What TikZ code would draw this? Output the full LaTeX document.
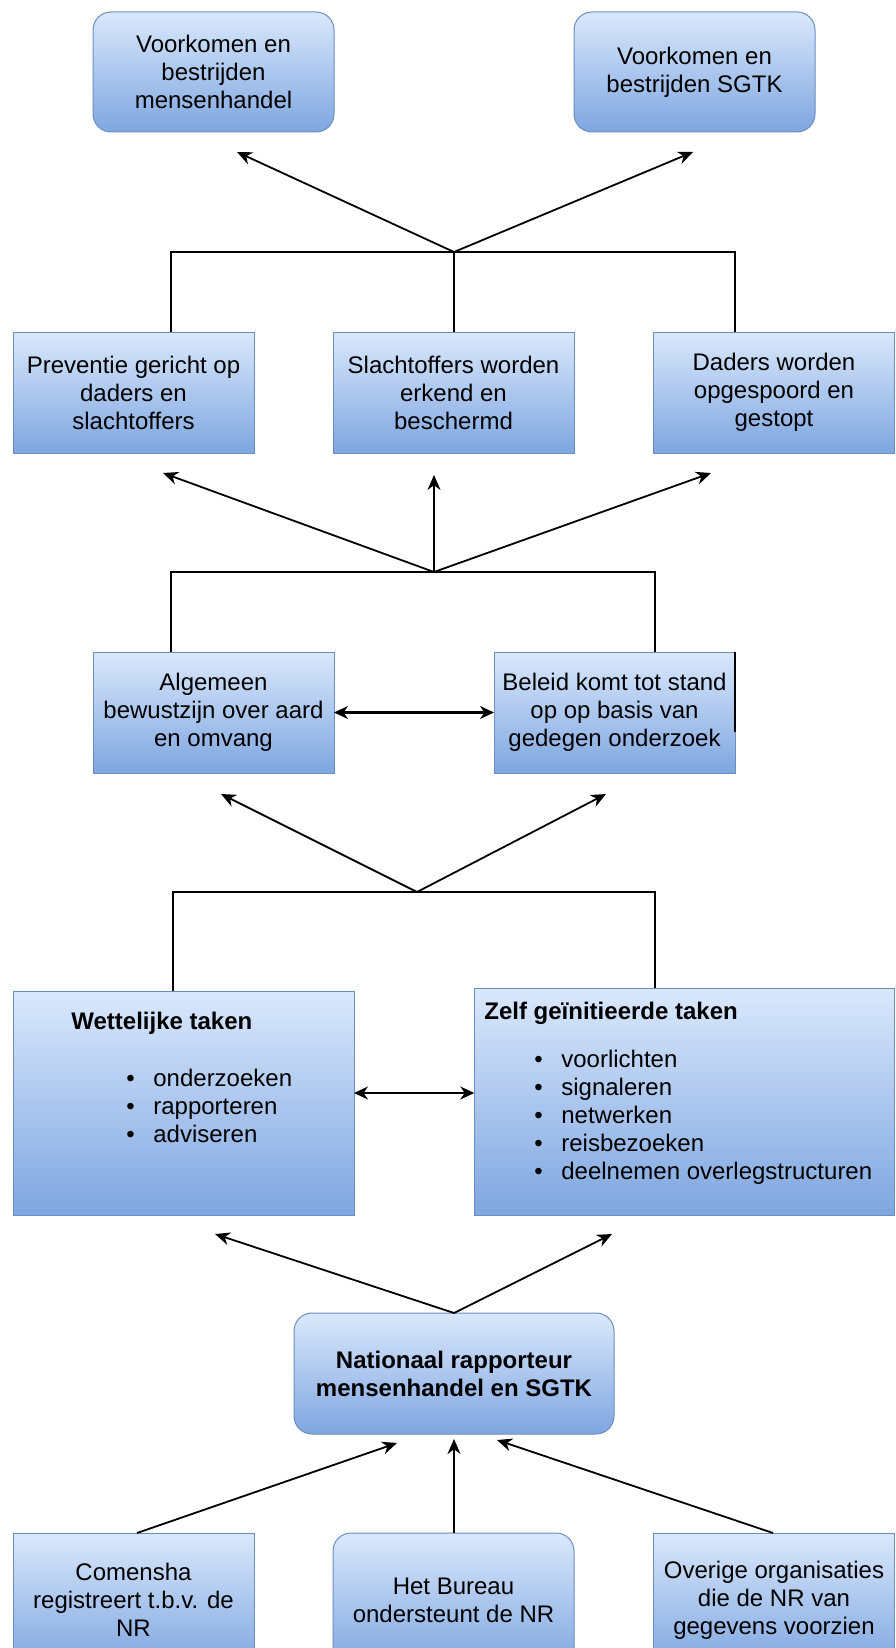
\documentclass[tikz,border=0pt]{standalone}
\usepackage{fontspec}
\setmainfont{Liberation Sans}
\usetikzlibrary{arrows.meta}

\definecolor{blauwtop}{RGB}{218,232,252}
\definecolor{blauwbodem}{RGB}{126,166,224}
\definecolor{blauwrand}{RGB}{108,142,191}

\newcommand\bolletje[1]{\makebox[13.5pt][l]{\textbullet}#1}

\tikzset{
	vak/.style={draw=blauwrand, line width=0.5pt, top color=blauwtop, bottom color=blauwbodem,
		minimum width=120.5pt, minimum height=60.5pt, inner sep=0pt, outer sep=0pt,
		align=center, font=\fontsize{12}{14}\selectfont},
	rvak/.style={vak, rounded corners=9pt},
	tekst/.style={inner sep=0pt, font=\fontsize{12}{14}\selectfont},
	lijn/.style={line width=0.9pt},
	pijl/.style={lijn, -{Stealth[length=7.5pt,width=6.5pt]}},
	dpijl/.style={line width=1.1pt, {Stealth[length=7pt,width=6.5pt]}-{Stealth[length=7pt,width=6.5pt]}},
}

\begin{document}
\begin{tikzpicture}[x=0.5pt,y=-0.5pt]
	\path[use as bounding box] (0,0) rectangle (895,1648);
	\clip (0,0) rectangle (895,1648);
	
	% doelen
	\node[rvak, minimum height=60pt] (vmh) at (213.5,72) {Voorkomen en\\bestrijden\\mensenhandel};
	\node[rvak, minimum height=60pt] (vsg) at (694.5,72) {Voorkomen en\\bestrijden SGTK};
	
	% effecten
	\node[vak] (prev) at (133.5,392.5) {Preventie gericht op\\daders en\\slachtoffers};
	\node[vak] (slo) at (453.5,392.5) {Slachtoffers worden\\erkend en\\beschermd};
	\node[vak] (dad) at (774,392.5) {Daders worden\\opgespoord en\\gestopt};
	
	% uitkomsten
	\node[vak] (alg) at (213.5,712.5) {Algemeen\\bewustzijn over aard\\en omvang};
	\node[vak] (bel) at (614.5,712.5) {Beleid komt tot stand\\op op basis van\\gedegen onderzoek};
	
	% taken
	\node[vak, minimum width=170.5pt, minimum height=112pt] (wet) at (183.5,1103) {};
	\node[tekst, anchor=west] (wet-t) at (71,1023) {\bfseries Wettelijke taken};
	\node[tekst, anchor=west, align=left] (wet-l) at (126,1106) {\bolletje{onderzoeken}\\\bolletje{rapporteren}\\\bolletje{adviseren}};
	
	\node[vak, minimum width=210pt, minimum height=113.5pt] (zelf) at (684.25,1101.5) {};
	\node[tekst, anchor=west] (zelf-t) at (484,1013) {\bfseries Zelf geïnitieerde taken};
	\node[tekst, anchor=west, align=left] (zelf-l) at (534,1117) {\bolletje{voorlichten}\\\bolletje{signaleren}\\\bolletje{netwerken}\\\bolletje{reisbezoeken}\\\bolletje{deelnemen overlegstructuren}};
	
	% rapporteur en bronnen
	\node[rvak, minimum width=160pt] (nr) at (454,1373.5) {\bfseries Nationaal rapporteur\\\bfseries mensenhandel en SGTK};
	\node[vak, minimum height=67pt] (com) at (133.5,1600) {Comensha\\registreert t.b.v. de\\NR};
	\node[rvak, minimum height=67pt] (bur) at (453.5,1600) {Het Bureau\\ondersteunt de NR};
	\node[vak, minimum height=67pt] (ovr) at (774,1600) {Overige organisaties\\die de NR van\\gegevens voorzien};
	
	% knooppunten en pijlpunten
	\coordinate (j1) at (454,252);
	\coordinate (t1a) at (237,152);
	\coordinate (t1b) at (693,152);
	\coordinate (j2) at (434,572);
	\coordinate (t2a) at (163,473);
	\coordinate (t2b) at (434,475);
	\coordinate (t2c) at (711,473);
	\coordinate (j3) at (417,892);
	\coordinate (t3a) at (221,794);
	\coordinate (t3b) at (606,794);
	\coordinate (t4a) at (215,1234);
	\coordinate (t4b) at (612,1234);
	\coordinate (t5a) at (397,1443);
	\coordinate (t5b) at (454,1439);
	\coordinate (t5c) at (497,1440);
	
	\draw[lijn] (prev.north -| 171,0) |- (j1) -| (dad.north -| 735,0);
	\draw[lijn] (j1 |- slo.north) -- (j1);
	\draw[pijl] (j1) -- (t1a);
	\draw[pijl] (j1) -- (t1b);
	
	\draw[lijn] (alg.north -| 171,0) |- (j2) -| (bel.north -| 655,0);
	\draw[pijl] (j2) -- (t2a);
	\draw[pijl] (j2) -- (t2b);
	\draw[pijl] (j2) -- (t2c);
	\draw[lijn] (bel.north east) -- (bel.east |- 0,732);
	
	\draw[lijn] (wet.north -| 173,0) |- (j3) -| (zelf.north -| 655,0);
	\draw[pijl] (j3) -- (t3a);
	\draw[pijl] (j3) -- (t3b);
	
	\draw[dpijl] (alg.east) -- (bel.west);
	\draw[dpijl] (wet.east |- 0,1093) -- (zelf.west |- 0,1093);
	
	\draw[pijl] (nr.north) -- (t4a);
	\draw[pijl] (nr.north) -- (t4b);
	
	\draw[pijl] (com.north -| 137,0) -- (t5a);
	\draw[pijl] (t5b |- bur.north) -- (t5b);
	\draw[pijl] (ovr.north -| 773,0) -- (t5c);
	
\end{tikzpicture}
\end{document}
